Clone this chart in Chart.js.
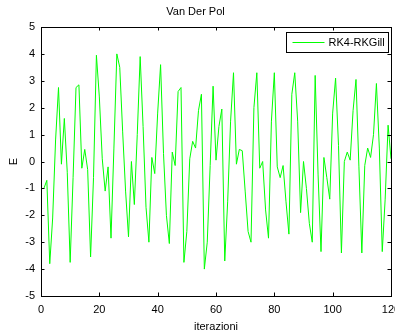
<!DOCTYPE html>
<html>
<head>
<meta charset="utf-8">
<script src="https://cdn.jsdelivr.net/npm/chart.js@4"></script>
<style>
  html, body { margin: 0; padding: 0; background: #fff; }
  #wrap { width: 395px; height: 334px; }
</style>
</head>
<body>
<div id="wrap"><canvas id="vdp-chart"></canvas></div>
<script>
// Van Der Pol - energia per iterazione (RK4-RKGill)
const iterations = Array.from({ length: 120 }, (_, k) => k + 1);
const energy = [
  -1.0, -0.7, -3.8, -2.1, 0.8, 2.75, -0.1, 1.6, -0.4, -3.75,
  -0.6, 2.75, 2.85, -0.25, 0.45, -0.3, -3.55, -0.6, 3.95, 2.4,
  0.1, -1.1, -0.2, -2.85, 0.5, 4.0, 3.5, 1.1, -1.1, -2.8,
  0.0, -1.6, 1.0, 3.9, 1.3, -1.7, -3.0, 0.15, -0.45, 1.8,
  3.6, 0.3, -2.0, -3.05, 0.35, -0.15, 2.6, 2.75, -3.75, -2.6,
  0.1, 0.75, 0.5, 1.9, 2.5, -4.0, -3.0, -0.15, 2.8, 0.05,
  1.3, 1.95, -3.7, -1.5, 1.5, 3.3, -0.1, 0.45, 0.4, -1.1,
  -2.6, -3.0, 2.0, 3.3, -0.25, 0.0, -1.8, -2.85, 1.5, 3.3,
  -0.2, -0.6, -0.15, -1.5, -2.7, 2.5, 3.3, 1.5, -1.9, 0.0,
  -1.0, -2.3, -3.0, 3.2, -0.5, -3.35, 0.15, -0.6, -1.4, 1.8,
  3.1, 0.6, -3.4, 0.0, 0.35, 0.05, 1.9, 3.05, -0.2, -3.4,
  -0.15, 0.5, 0.15, 1.0, 2.9, 0.5, -3.35, -1.4, 1.35, 0.1
];
const xTicks = [0, 20, 40, 60, 80, 100, 120];
const yTicks = [-5, -4, -3, -2, -1, 0, 1, 2, 3, 4, 5];
const seriesLabel = 'RK4-RKGill';

const FONT = 'Liberation Sans, Arial, Helvetica, sans-serif';

// stile MATLAB: box completo e tacche verso l'interno
const boxTicks = {
  id: 'boxTicks',
  afterDraw(chart) {
    const { ctx, chartArea: a, scales: { x, y } } = chart;
    const len = 3.5;
    ctx.save();
    ctx.strokeStyle = '#000';
    ctx.lineWidth = 1;
    ctx.beginPath();
    xTicks.forEach(v => {
      const px = Math.round(x.getPixelForValue(v)) + 0.5;
      ctx.moveTo(px, a.bottom); ctx.lineTo(px, a.bottom - len);
      ctx.moveTo(px, a.top); ctx.lineTo(px, a.top + len);
    });
    yTicks.forEach(v => {
      const py = Math.round(y.getPixelForValue(v)) + 0.5;
      ctx.moveTo(a.left, py); ctx.lineTo(a.left + len, py);
      ctx.moveTo(a.right, py); ctx.lineTo(a.right - len, py);
    });
    ctx.stroke();
    ctx.strokeRect(Math.round(a.left) + 0.5, Math.round(a.top) + 0.5,
      Math.round(a.right - a.left), Math.round(a.bottom - a.top));
    ctx.restore();
  }
};

// legenda dentro l'area del grafico, in alto a destra
const insideLegend = {
  id: 'insideLegend',
  afterDraw(chart) {
    const { ctx, chartArea: a } = chart;
    const ds = chart.data.datasets[0];
    ctx.save();
    ctx.font = '11px ' + FONT;
    const textW = ctx.measureText(ds.label).width;
    const w = Math.round(6 + 32 + 4 + textW + 4);
    const h = 20;
    const left = Math.round(a.right - 3 - w) + 0.5;
    const top = Math.round(a.top + 5) + 0.5;
    ctx.fillStyle = '#fff';
    ctx.fillRect(left, top, w, h);
    ctx.strokeStyle = '#000';
    ctx.lineWidth = 1;
    ctx.strokeRect(left, top, w, h);
    ctx.strokeStyle = ds.borderColor;
    ctx.beginPath();
    ctx.moveTo(left + 6, top + h / 2);
    ctx.lineTo(left + 38, top + h / 2);
    ctx.stroke();
    ctx.fillStyle = '#000';
    ctx.textBaseline = 'middle';
    ctx.fillText(ds.label, left + 42, top + h / 2 + 0.5);
    ctx.restore();
  }
};

new Chart(document.getElementById('vdp-chart'), {
  type: 'line',
  data: {
    datasets: [{
      label: seriesLabel,
      data: iterations.map((it, k) => ({ x: it, y: energy[k] })),
      borderColor: '#00ff00',
      borderWidth: 1,
      pointRadius: 0,
      tension: 0,
      fill: false
    }]
  },
  options: {
    responsive: true,
    maintainAspectRatio: false,
    animation: false,
    layout: { padding: { left: 0, right: 4, top: 0, bottom: 0 } },
    plugins: {
      legend: { display: false },
      tooltip: { enabled: false },
      title: {
        display: true,
        text: 'Van Der Pol',
        color: '#000',
        font: { family: FONT, size: 11, weight: 'normal', lineHeight: 1.2 },
        padding: { top: 5, bottom: 8.8 }
      }
    },
    scales: {
      x: {
        type: 'linear',
        min: 0,
        max: 120,
        afterBuildTicks: s => { s.ticks = xTicks.map(v => ({ value: v })); },
        afterFit: s => { s.height = 38; s.paddingLeft = 0; s.paddingRight = 0; },
        grid: { display: false, drawTicks: false },
        border: { display: false },
        ticks: { color: '#000', padding: 7, maxRotation: 0, font: { family: FONT, size: 11 } },
        title: {
          display: true,
          text: 'iterazioni',
          color: '#000',
          font: { family: FONT, size: 11, lineHeight: 1.2 },
          padding: { top: 0, bottom: 0.5 }
        }
      },
      y: {
        type: 'linear',
        min: -5,
        max: 5,
        afterBuildTicks: s => { s.ticks = yTicks.map(v => ({ value: v })); },
        afterFit: s => { s.width = 41; s.paddingTop = 0; s.paddingBottom = 0; },
        grid: { display: false, drawTicks: false },
        border: { display: false },
        ticks: { color: '#000', padding: 6, font: { family: FONT, size: 11 } },
        title: {
          display: true,
          text: 'E',
          color: '#000',
          font: { family: FONT, size: 11, lineHeight: 1.2 },
          padding: { top: 7.4, bottom: 0 }
        }
      }
    }
  },
  plugins: [boxTicks, insideLegend]
});
</script>
</body>
</html>
